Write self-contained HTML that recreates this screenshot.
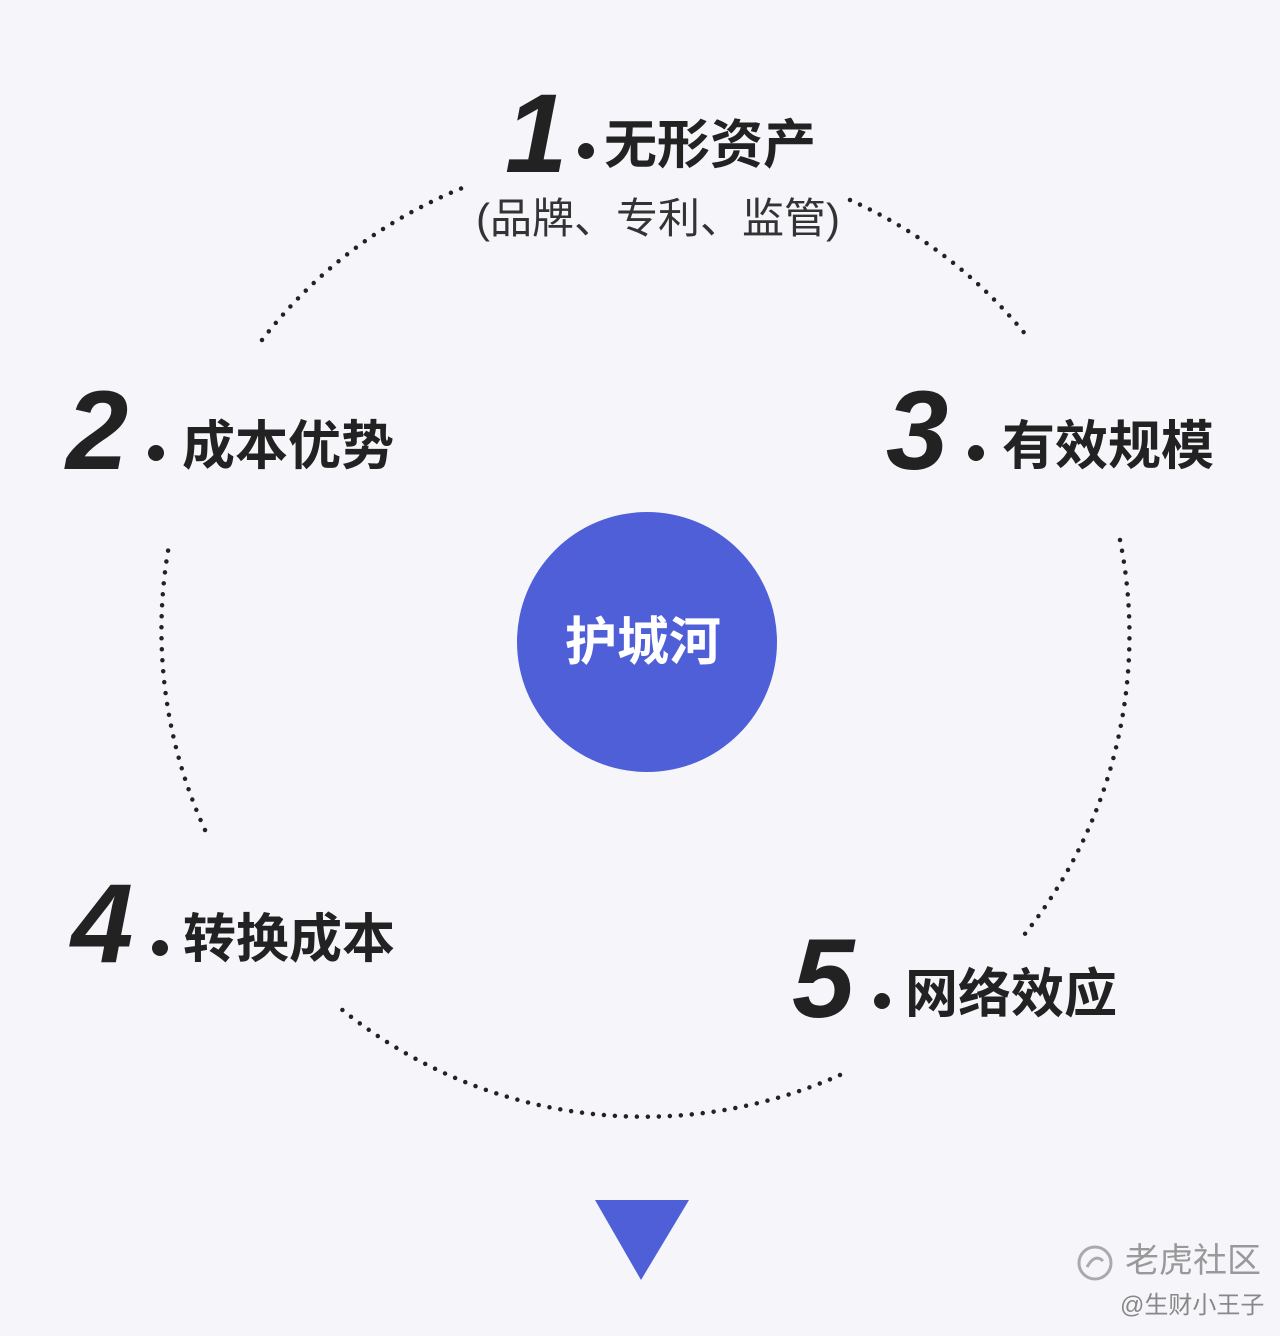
<!DOCTYPE html>
<html><head><meta charset="utf-8"><style>
html,body{margin:0;padding:0;}
body{width:1280px;height:1336px;background:#f6f6fa;position:relative;overflow:hidden;font-family:"Liberation Sans","Noto Sans CJK SC",sans-serif;}
.n{position:absolute;font-family:"Liberation Sans",sans-serif;font-weight:900;font-style:italic;color:#222;line-height:1;}
.t{position:absolute;font-weight:bold;color:#222;line-height:1;font-family:"Liberation Sans","Noto Sans CJK SC",sans-serif;}
.d{position:absolute;width:16px;height:16px;border-radius:50%;background:#222;}
</style></head><body>
<svg width="1280" height="1336" style="position:absolute;left:0;top:0">
<g fill="none" stroke="#222" stroke-width="4.5" stroke-linecap="round" stroke-dasharray="0 11">
<path d="M262 340 A480 480 0 0 1 470 185"/>
<path d="M850 200 A480 480 0 0 1 1030 340"/>
<path d="M1120 540 A480 480 0 0 1 1020 940"/>
<path d="M840 1075 A480 480 0 0 1 340 1008"/>
<path d="M205 830 A480 480 0 0 1 170 540"/>
</g>
<circle cx="647" cy="642" r="130" fill="#4f5fd8"/>
<polygon points="595,1200 689,1200 641,1280" fill="#4f5fd8"/>
</svg>
<div class="t" style="left:565px;top:617px;font-size:52px;color:#fff;">护城河</div>

<div class="n" style="left:505px;top:78px;font-size:112px;">1</div>
<div class="d" style="left:578px;top:143px"></div>
<div class="t" style="left:604px;top:119px;font-size:53px;">无形资产</div>
<div class="t" style="left:476px;top:198px;font-size:42px;font-weight:normal;color:#333;">(品牌、专利、监管)</div>

<div class="n" style="left:66px;top:375px;font-size:112px;">2</div>
<div class="d" style="left:148px;top:445px"></div>
<div class="t" style="left:182px;top:420px;font-size:53px;">成本优势</div>

<div class="n" style="left:886px;top:375px;font-size:112px;">3</div>
<div class="d" style="left:968px;top:445px"></div>
<div class="t" style="left:1002px;top:420px;font-size:53px;">有效规模</div>

<div class="n" style="left:71px;top:868px;font-size:112px;">4</div>
<div class="d" style="left:152px;top:940px"></div>
<div class="t" style="left:183px;top:913px;font-size:53px;">转换成本</div>

<div class="n" style="left:792px;top:923px;font-size:112px;">5</div>
<div class="d" style="left:874px;top:993px"></div>
<div class="t" style="left:905px;top:968px;font-size:53px;">网络效应</div>

<svg width="40" height="40" style="position:absolute;left:1075px;top:1243px"><circle cx="20" cy="20" r="16" fill="none" stroke="#aaa" stroke-width="3"/><path d="M12 24 Q20 10 28 18" stroke="#aaa" stroke-width="3" fill="none"/></svg>
<div class="t" style="left:1125px;top:1244px;font-size:34px;font-weight:normal;color:#999;">老虎社区</div>
<div class="t" style="left:1120px;top:1294px;font-size:24px;font-weight:normal;color:#888;">@生财小王子</div>
</body></html>
